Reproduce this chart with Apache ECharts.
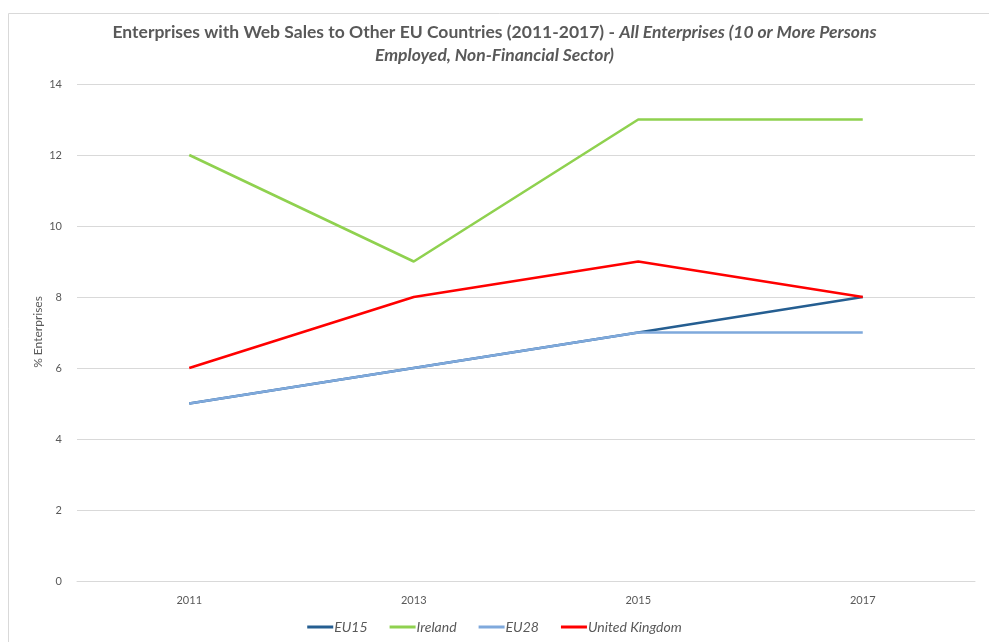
<!DOCTYPE html>
<html>
<head>
<meta charset="utf-8">
<style>html,body{margin:0;padding:0;background:#fff}#chart{width:989px;height:642px}</style>
<script src="https://cdn.jsdelivr.net/npm/echarts@6/dist/echarts.min.js"></script>
</head>
<body>
<div id="chart"></div>
<script>
const years = ['2011', '2013', '2015', '2017'];
const eu15 = [5, 6, 7, 8];
const ireland = [12, 9, 13, 13];
const eu28 = [5, 6, 7, 7];
const unitedKingdom = [6, 8, 9, 8];
const yAxisTitle = '% Enterprises';

const FONT = 'Lato, "Open Sans", sans-serif';
const TEXT = '#595959';

const chart = echarts.init(document.getElementById('chart'));

function line(name, data, color) {
  return {
    name: name, type: 'line', data: data, symbol: 'none',
    lineStyle: { color: color, width: 2.6 }, itemStyle: { color: color }
  };
}

const titleRich = {
  b: { fontFamily: FONT, fontSize: 17.5, fontWeight: 'bold', color: TEXT },
  i: { fontFamily: FONT, fontSize: 17.5, fontWeight: 'bold', fontStyle: 'italic', color: TEXT }
};

chart.setOption({
  animation: false,
  textStyle: { fontFamily: FONT },
  graphic: [{
    type: 'rect', left: 6, top: 11, silent: true,
    shape: { width: 1000, height: 650 },
    style: { fill: 'none', stroke: '#d9d9d9', lineWidth: 1 }
  }, {
    type: 'text', x: 38, y: 332, rotation: Math.PI / 2, silent: true,
    style: {
      text: yAxisTitle, fill: TEXT, fontFamily: FONT, fontSize: 12,
      align: 'center', verticalAlign: 'middle'
    }
  }],
  title: [{
    left: 'center', top: 23, padding: 0,
    text: '{b|Enterprises with Web Sales to Other EU Countries (2011-2017) - }{i|All Enterprises (10 or More Persons}',
    textStyle: { rich: titleRich }
  }, {
    left: 'center', top: 46, padding: 0,
    text: '{i|Employed, Non-Financial Sector)}',
    textStyle: { rich: titleRich }
  }],
  legend: {
    bottom: 3, left: 'center', itemGap: 22,
    icon: 'rect', itemWidth: 26, itemHeight: 3,
    textStyle: { fontFamily: FONT, fontSize: 14, fontStyle: 'italic', color: TEXT, padding: [0, 0, 0, -4] },
    data: ['EU15', 'Ireland', 'EU28', 'United Kingdom']
  },
  grid: { left: 77, right: 14, top: 84, bottom: 61 },
  xAxis: {
    type: 'category', data: years, boundaryGap: true,
    axisLine: { lineStyle: { color: '#d9d9d9' } },
    axisTick: { show: false },
    axisLabel: { color: TEXT, fontSize: 11, margin: 14 }
  },
  yAxis: {
    type: 'value', min: 0, max: 14, interval: 2,
    axisLine: { show: false }, axisTick: { show: false },
    axisLabel: { color: TEXT, fontSize: 11, margin: 15 },
    splitLine: { lineStyle: { color: '#d9d9d9' } }
  },
  series: [
    line('EU15', eu15, '#255e91'),
    line('Ireland', ireland, '#8fd14f'),
    line('EU28', eu28, '#7fa9dc'),
    line('United Kingdom', unitedKingdom, '#ff0000')
  ]
});
</script>
</body>
</html>
